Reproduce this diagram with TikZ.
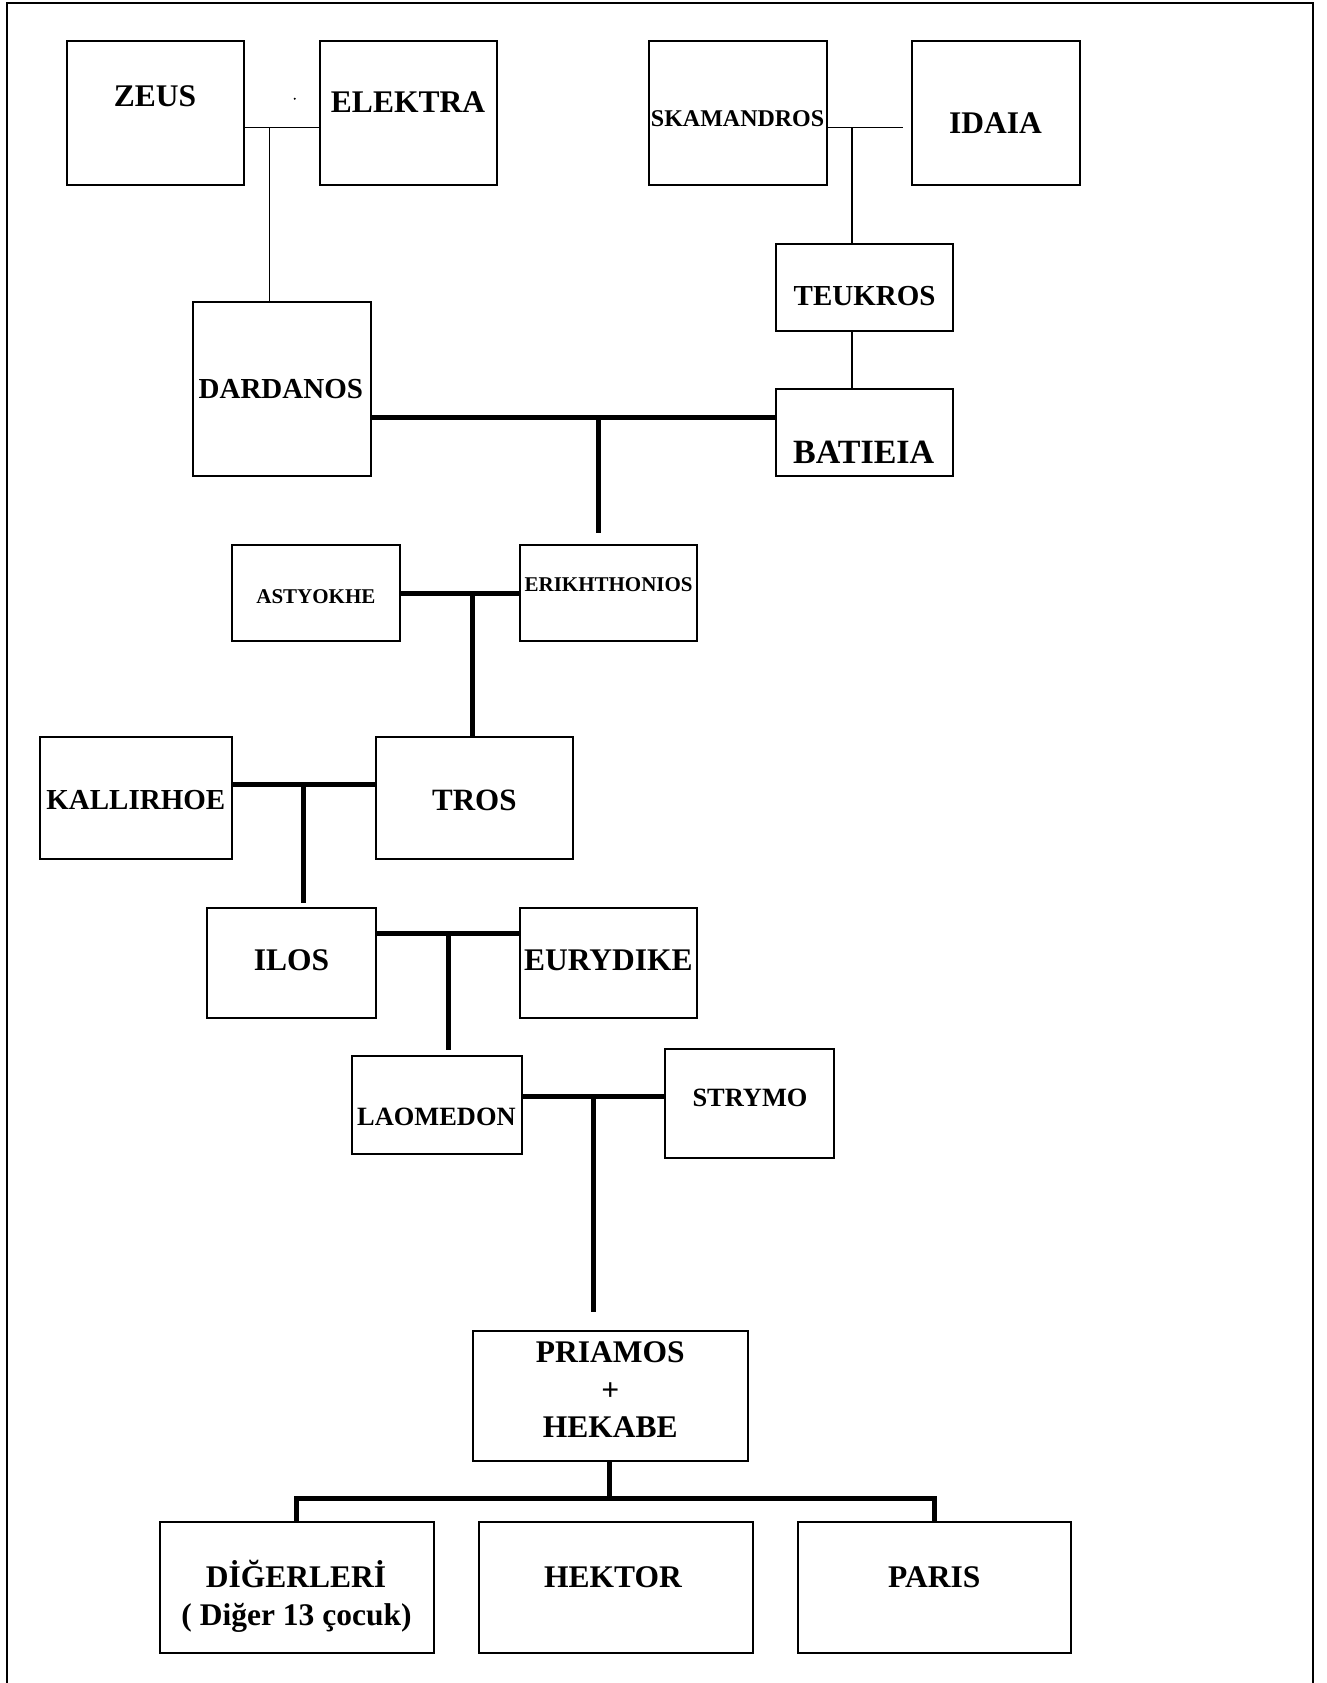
\documentclass[tikz,border=0pt]{standalone}
\usepackage{fontspec}
\setmainfont{Liberation Serif}
\newcommand\fsz[1]{\fontsize{#1}{#1}\selectfont}
\tikzset{
  fambox/.style={draw=black, line width=2pt, inner sep=0pt, fill=none},
  lbl/.style={anchor=base, inner sep=0pt, font=\bfseries\fsz{#1}},
  lbl/.default=31.5,
  thinln/.style={line width=1.6pt},
  thickln/.style={line width=5pt},
  frameln/.style={line width=2.2pt}
}
\newcommand\famb[5]{\node[fambox, minimum width={(#4-#2)*1pt}, minimum height={(#5-#3)*1pt}] (#1) at ({(#2+#4)/2},{(#3+#5)/2}) {};}
\begin{document}
\begin{tikzpicture}[x=1pt,y=-1pt]
\useasboundingbox (0,0) rectangle (1326,1683);
% outer frame (open at the bottom)
\coordinate (fbl) at (6.7,1683);
\coordinate (ftl) at (6.7,3);
\coordinate (ftr) at (1313,3);
\coordinate (fbr) at (1313,1683);
\draw[frameln] (fbl) -- (ftl) -- (ftr) -- (fbr);

% boxes
\famb{zeus}{66.5}{40.8}{243.8}{184.5}
\famb{elektra}{319.8}{40.8}{497.1}{184.5}
\famb{skam}{649.3}{40.8}{826.6}{184.5}
\famb{idaia}{911.7}{40.8}{1080.3}{184.5}
\famb{teukros}{775.5}{243.5}{952.8}{330.8}
\famb{dardanos}{193}{301.5}{370.6}{475.8}
\famb{batieia}{775.5}{388.5}{952.8}{475.8}
\famb{astyokhe}{231.7}{545}{399.8}{641}
\famb{erikh}{519.7}{545}{697.4}{641}
\famb{kallirhoe}{39.7}{736.5}{231.9}{859.1}
\famb{tros}{375.8}{736.5}{572.6}{859.1}
\famb{ilos}{207.4}{908.2}{375.8}{1017.9}
\famb{eurydike}{519.7}{908.2}{697.4}{1017.9}
\famb{laomedon}{352}{1055.5}{521.5}{1154}
\famb{strymo}{665.4}{1049}{834.4}{1158.3}
\famb{priamos}{472.7}{1331}{748.1}{1461.2}
\famb{diger}{159.5}{1522.2}{434}{1652.6}
\famb{hektor}{478.9}{1522.2}{752.5}{1652.6}
\famb{paris}{797.7}{1522.2}{1071.3}{1652.6}

% labels
\node[lbl] (tzeus) at (155,106.4) {ZEUS};
\node[lbl] (telektra) at (408,112.1) {ELEKTRA};
\node[circle, fill=black, inner sep=0pt, minimum size=2.2pt] (dot) at (294.7,98.7) {};
\node[lbl=24] (tskam) at (737.6,126.2) {SKAMANDROS};
\node[lbl] (tidaia) at (995.5,133.2) {IDAIA};
\node[lbl=29] (tteukros) at (864.6,305.6) {TEUKROS};
\node[lbl=34] (tbatieia) at (863.7,463.5) {BATIEIA};
\node[lbl=29] (tdardanos) at (280.8,398.4) {DARDANOS};
\node[lbl=21] (tastyokhe) at (315.9,603.8) {ASTYOKHE};
\node[lbl=21] (terikh) at (608.6,591.3) {ERIKHTHONIOS};
\node[lbl=29] (tkallirhoe) at (135.8,809.6) {KALLIRHOE};
\node[lbl=31] (ttros) at (474.3,810.3) {TROS};
\node[lbl] (tilos) at (291.6,970.4) {ILOS};
\node[lbl] (teurydike) at (608.4,970.4) {EURYDIKE};
\node[lbl=26.4] (tlaomedon) at (436.4,1125.2) {LAOMEDON};
\node[lbl=26.4] (tstrymo) at (750,1106.2) {STRYMO};
\node[lbl] (tpriamos) at (610.2,1362.1) {PRIAMOS};
\node[inner sep=0pt, font=\bfseries\fsz{31.5}] (tplus) at (610.4,1391.7) {+};
\node[lbl] (thekabe) at (610.2,1437.1) {HEKABE};
\node[lbl] (tdiger) at (296,1587.5) {DİĞERLERİ};
\node[lbl] (tdiger2) at (296.5,1625) {( Diğer 13 çocuk)};
\node[lbl] (thektor) at (612.9,1587.7) {HEKTOR};
\node[lbl] (tparis) at (934.2,1587.7) {PARIS};

% junctions and free ends
\coordinate (j1) at (269.3,127.7);
\coordinate (j2) at (852,127.7);
\coordinate (e2) at (902.5,127.7);
\coordinate (j3) at (598,417.7);
\coordinate (e3) at (598,533.2);
\coordinate (j4) at (472.2,593);
\coordinate (j5) at (303.8,784.6);
\coordinate (e5) at (303.8,902.9);
\coordinate (j6) at (448,933.2);
\coordinate (e6) at (448,1050);
\coordinate (j7) at (593.5,1096.7);
\coordinate (e7) at (593.5,1312.3);
\coordinate (j8) at (609.4,1498.3);

% thin connectors
\draw[thinln] (zeus.east |- j1) -- (elektra.west |- j1);
\draw[thinln] (j1) -- (j1 |- dardanos.north);
\draw[thinln] (skam.east |- j2) -- (e2);
\draw[thinln] (j2) -- (j2 |- teukros.north);
\draw[thinln] (j2 |- teukros.south) -- (j2 |- batieia.north);

% thick connectors
\draw[thickln] (dardanos.east |- j3) -- (batieia.west |- j3);
\draw[thickln] (j3) -- (e3);
\draw[thickln] (astyokhe.east |- j4) -- (erikh.west |- j4);
\draw[thickln] (j4) -- (j4 |- tros.north);
\draw[thickln] (kallirhoe.east |- j5) -- (tros.west |- j5);
\draw[thickln] (j5) -- (e5);
\draw[thickln] (ilos.east |- j6) -- (eurydike.west |- j6);
\draw[thickln] (j6) -- (e6);
\draw[thickln] (laomedon.east |- j7) -- (strymo.west |- j7);
\draw[thickln] (j7) -- (e7);
\draw[thickln] (priamos.south -| j8) -- (j8);
\draw[thickln] (diger.north) -- (diger.north |- j8) -- (paris.north |- j8) -- (paris.north);
\end{tikzpicture}
\end{document}
